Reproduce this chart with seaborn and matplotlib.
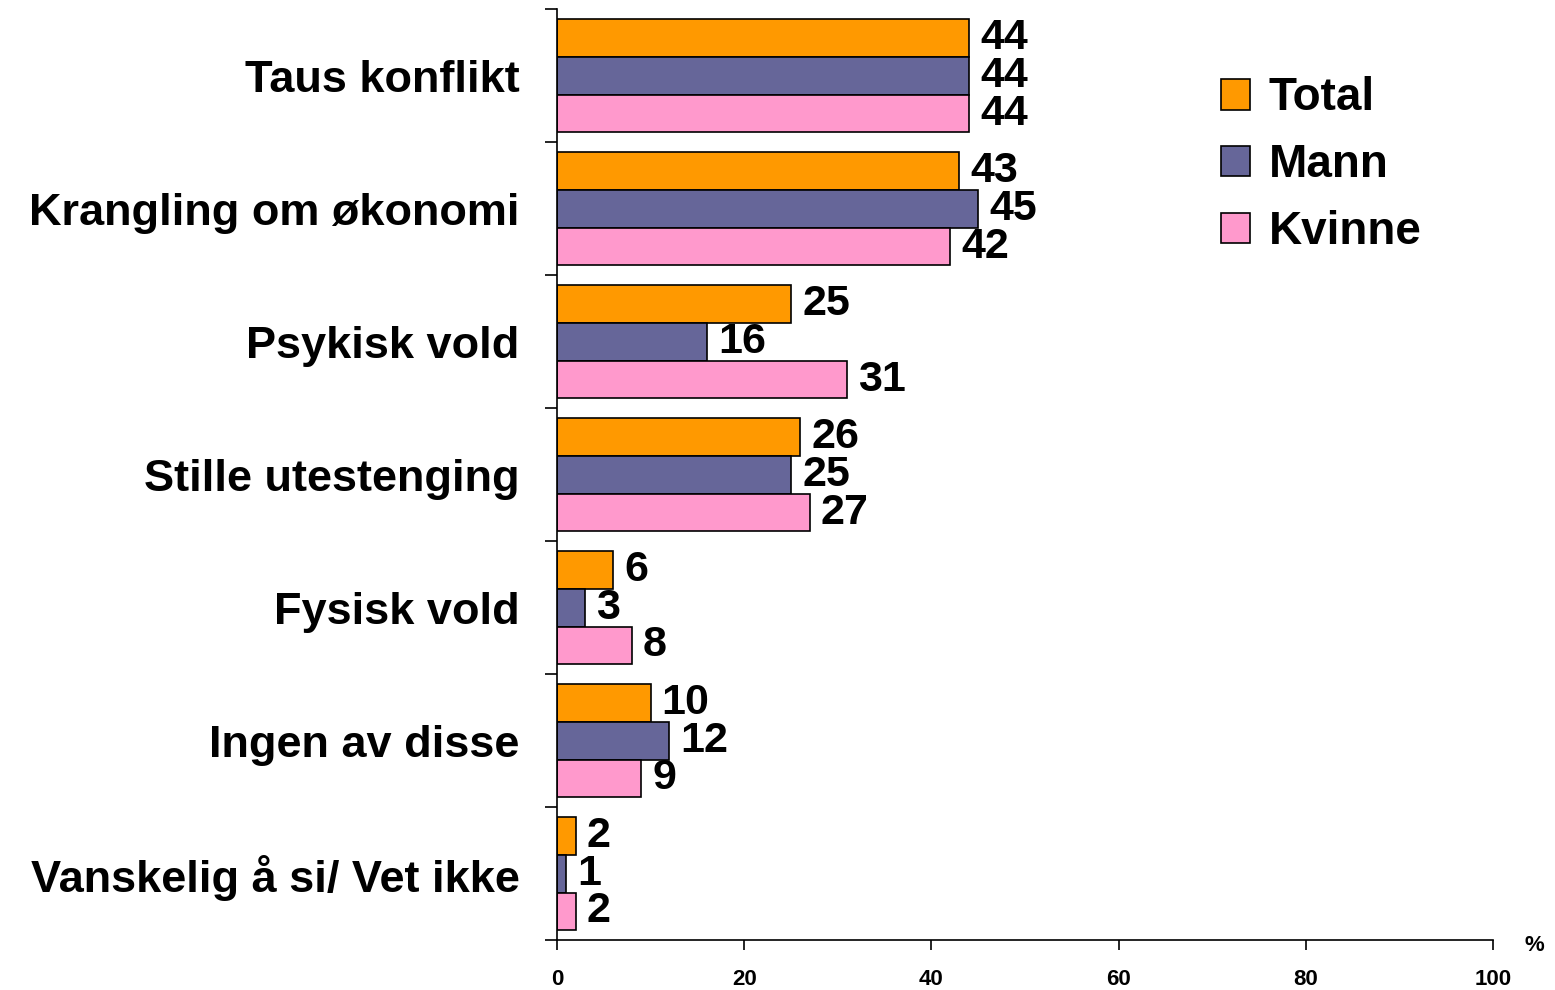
import numpy as np
import pandas as pd
import matplotlib
matplotlib.use('Agg')
import matplotlib.pyplot as plt
import seaborn as sns

# Data
categories = ['Taus konflikt', 'Krangling om økonomi', 'Psykisk vold',
              'Stille utestenging', 'Fysisk vold', 'Ingen av disse',
              'Vanskelig å si/ Vet ikke']
total = [44, 43, 25, 26, 6, 10, 2]
mann = [44, 45, 16, 25, 3, 12, 1]
kvinne = [44, 42, 31, 27, 8, 9, 2]
groups = ['Total', 'Mann', 'Kvinne']
colors = ['#FF9900', '#666699', '#FF99CC']
x_ticks = [0, 20, 40, 60, 80, 100]

df = pd.DataFrame({
    'kategori': categories * 3,
    'gruppe': np.repeat(groups, len(categories)),
    'verdi': total + mann + kvinne,
})

sns.set_style('white')
plt.rcParams['font.family'] = ['Liberation Sans', 'DejaVu Sans']
plt.rcParams['text.color'] = 'black'
plt.rcParams['xtick.color'] = 'black'
plt.rcParams['ytick.color'] = 'black'

fig = plt.figure(figsize=(15.55, 9.9), dpi=100)
ax = fig.add_axes([0.3582, 0.0505, 0.6019, 0.9404])

sns.barplot(data=df, y='kategori', x='verdi', hue='gruppe', order=categories,
            hue_order=groups, palette=colors, orient='h', width=0.857,
            edgecolor='black', linewidth=1.2, saturation=1, ax=ax)

for cont in ax.containers:
    ax.bar_label(cont, fmt='%d', padding=8, fontsize=31, fontweight='bold', color='black')

ax.set_xlim(0, 100)
ax.set_ylim(len(categories) - 0.5, -0.5)
ax.set_xticks(x_ticks)
ax.set_xticklabels([str(t) for t in x_ticks], fontsize=16, fontweight='bold',
                   family=['Liberation Sans Narrow', 'Liberation Sans', 'DejaVu Sans'])
ax.tick_params(axis='x', direction='out', length=7, width=1.2, pad=14, bottom=True)

ax.set_yticks(range(len(categories)))
ax.set_yticklabels(categories, fontsize=32.5, fontweight='bold')
ax.tick_params(axis='y', which='major', length=0, pad=27)
ax.set_yticks(np.arange(-0.5, len(categories), 1.0), minor=True)
ax.tick_params(axis='y', which='minor', direction='out', length=9, width=1.2, left=True)

ax.set_xlabel('')
ax.set_ylabel('')
for side in ['top', 'right']:
    ax.spines[side].set_visible(False)
for side in ['left', 'bottom']:
    ax.spines[side].set_linewidth(1.2)
    ax.spines[side].set_color('black')

fig.text(0.987, 0.045, '%', fontsize=16, fontweight='bold', ha='center', va='center',
         family=['Liberation Sans Narrow', 'Liberation Sans', 'DejaVu Sans'])

leg = ax.legend(loc='upper left', bbox_to_anchor=(0.665, 0.972), frameon=False,
                fontsize=33, handlelength=0.65, handleheight=0.65, handletextpad=0.4,
                labelspacing=0.5)
for t in leg.get_texts():
    t.set_fontweight('bold')

fig.savefig('out.png', dpi=100)
